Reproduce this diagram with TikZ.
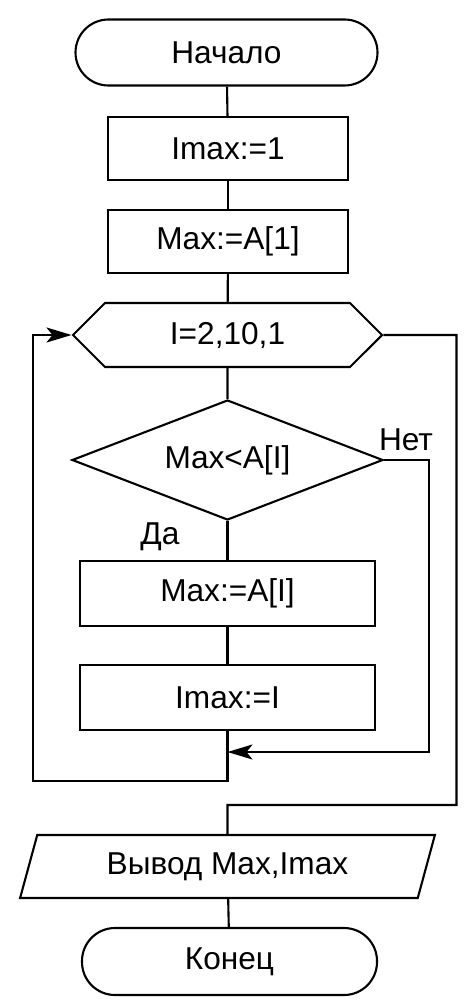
\documentclass[tikz,border=0pt]{standalone}
\usepackage{fontspec}
\setmainfont{Liberation Sans}
\usetikzlibrary{arrows.meta,positioning,shapes.geometric,shapes.symbols}
\begin{document}
\begin{tikzpicture}[line width=1.2pt,font=\fontsize{18}{21}\selectfont,term/.style={draw,rounded corners=.66cm,minimum width=6.04cm,minimum height=1.32cm},box/.style={draw,minimum width=4.8cm,minimum height=1.26cm},wbox/.style={box,minimum width=5.9cm,minimum height=1.3cm},hex/.style={draw,signal,signal to=east and west,signal pointer angle=90,minimum width=6.18cm,minimum height=1.28cm},cond/.style={draw,diamond,aspect=2.6,inner sep=0pt,minimum width=6.22cm,minimum height=2.4cm},io/.style={draw,trapezium,trapezium left angle=74,trapezium right angle=106,trapezium stretches=true,minimum width=8.3cm,minimum height=1.26cm},a/.style={-{Stealth[length=5mm,width=3mm,inset=1.2mm]}}]
\useasboundingbox (0,0) rectangle (9.48,-20.12);
\node[term] (start) at (4.53,-1.05) {Начало};
\node[box] (imax1) at (4.56,-2.97) {Imax:=1};
\node[box] (max1) at (4.56,-4.83) {Max:=A[1]};
\node[hex] (loop) at (4.55,-6.7) {I=2,10,1};
\node[cond] (test) at (4.55,-9.2) {Max<A[I]};
\node[wbox] (maxi) at (4.55,-11.87) {Max:=A[I]};
\node[wbox] (imaxi) at (4.55,-13.95) {Imax:=I};
\node[io] (out) at (4.55,-17.33) {Вывод Max,Imax};
\node[term,minimum width=5.9cm,minimum height=1.34cm] (stop) at (4.59,-19.23) {Конец};
\node (no) at (8.12,-8.8) {Нет};
\node (yes) at (3.2,-10.74) {Да};
\coordinate (join) at (4.55,-15.04);
\coordinate (back) at (4.55,-15.62);
\coordinate (exit) at (4.55,-16.1);
\draw (start)--(imax1); \draw (imax1)--(max1); \draw (max1)--(loop);
\draw (loop)--(test); \draw (test)--(maxi); \draw (maxi)--(imaxi);
\draw[a] (imaxi)--(back)--++(-3.89,0)|-(loop.west);
\draw[a] (test.east)--++(0.9,0)|-(join);
\draw (loop.east)--++(1.46,0)|-(exit)--(out);
\draw (out)--(stop);
\end{tikzpicture}
\end{document}
